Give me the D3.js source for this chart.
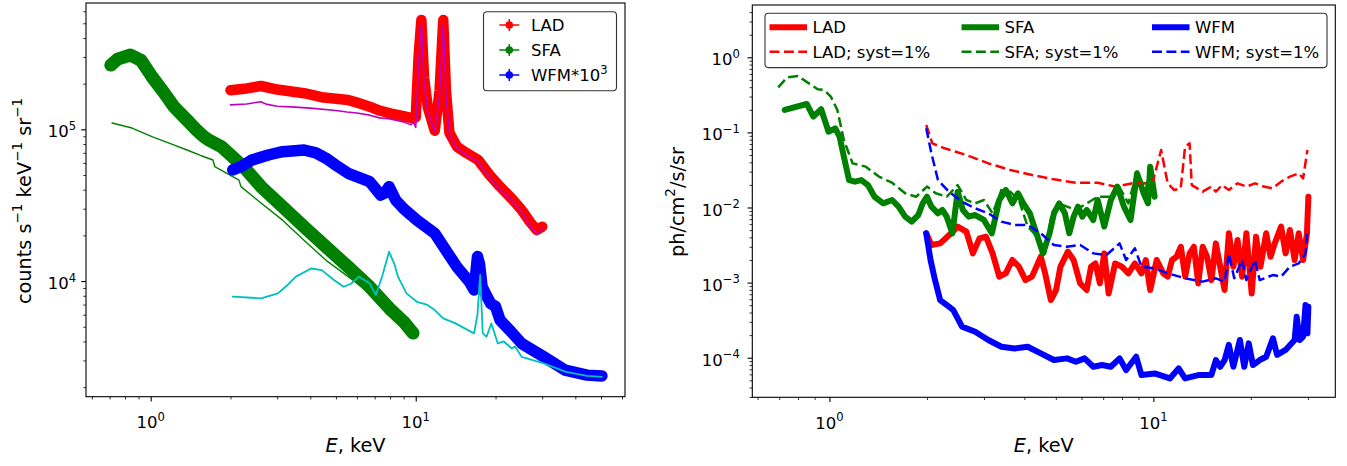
<!DOCTYPE html>
<html>
<head>
<meta charset="utf-8">
<script src="https://cdn.jsdelivr.net/npm/d3@7"></script>
<style>
  body { margin: 0; background: #fff; }
  text { font-family: "DejaVu Sans", sans-serif; }
</style>
</head>
<body>
<div id="chart-area"></div>
<script>
// ---- left panel: count spectra (E in keV, counts s^-1 keV^-1 sr^-1) ----
let ladE = [2.0,2.3,2.61,3.0,3.79,4.5,5.56,6.0,6.7,7.3,8.07,9.0,9.77,10.0,10.25,10.5,10.75,11.1,11.8,12.3,12.7,13.0,13.4,14.3,15.5,17.2,19.0,20.8,23.0,25.1,27.0,28.6,30.0];
let ladCounts = [1.81e5,1.86e5,1.93e5,1.83e5,1.73e5,1.62e5,1.56e5,1.50e5,1.41e5,1.33e5,1.27e5,1.22e5,1.18e5,1.2e5,3.0e5,5.25e5,2.2e5,1.4e5,9.8e4,1.8e5,5.25e5,1.8e5,9.5e4,7.7e4,7.0e4,6.28e4,5.0e4,4.19e4,3.5e4,2.94e4,2.45e4,2.17e4,2.28e4];

let ladModelE = [2.0,2.3,2.6,2.75,3.0,3.5,4.0,5.0,5.5,6.0,6.7,7.3,8.0,9.0,9.6,9.8,10.0,10.25,10.5,10.75,11.1,11.8,12.3,12.7,13.0,13.4,14.3,15.5,17.2,19.0,20.8,23.0,25.1,27.0,28.6,30.0];
let ladModel = [1.45e5,1.47e5,1.52e5,1.46e5,1.42e5,1.40e5,1.38e5,1.33e5,1.30e5,1.28e5,1.24e5,1.19e5,1.17e5,1.12e5,1.07e5,1.12e5,1.03e5,2.8e5,5.0e5,2.0e5,1.3e5,9.6e4,1.7e5,5.0e5,1.7e5,9.2e4,7.5e4,6.8e4,6.1e4,4.8e4,4.0e4,3.4e4,2.85e4,2.3e4,2.05e4,2.2e4];

let sfaE = [0.707,0.75,0.838,0.92,1.011,1.12,1.224,1.371,1.48,1.589,1.655,1.85,2.239,2.608,3.145,3.787,4.588,5.56,6.70,8.07,9.0,9.77];
let sfaCounts = [2.65e5,2.9e5,3.09e5,2.85e5,2.22e5,1.75e5,1.41e5,1.15e5,1.0e5,8.94e4,8.5e4,7.68e4,5.67e4,4.19e4,3.09e4,2.28e4,1.68e4,1.24e4,9.17e3,6.44e3,5.4e3,4.54e3];

let sfaModelE = [0.715,0.85,1.011,1.2,1.371,1.55,1.718,1.745,2.154,2.19,2.608,3.145,3.787,4.588,5.56,6.72,8.07,9.77];
let sfaModel = [1.10e5,1.02e5,8.94e4,8.0e4,7.31e4,6.7e4,6.28e4,5.67e4,4.63e4,4.19e4,3.27e4,2.52e4,1.86e4,1.37e4,1.07e4,8.33e3,6.25e3,4.54e3];

let wfmE = [2.04,2.2,2.41,2.8,3.145,3.79,4.2,4.59,5.0,5.56,6.70,7.1,7.37,7.65,7.93,8.4,9.0,10.1,11.8,14.3,16.0,16.6,17.1,17.4,17.8,18.5,19.2,20.0,20.8,23.0,25.1,30.4,36.6,44.3,50.4];
let wfmCounts = [5.4e4,5.7e4,6.28e4,6.8e4,7.12e4,7.31e4,7.0e4,6.44e4,5.8e4,5.13e4,4.52e4,4.0e4,3.69e4,3.8e4,4.19e4,3.42e4,3.0e4,2.52e4,2.06e4,1.24e4,9.8e3,8.73e3,1.45e4,1.3e4,9.17e3,8.0e3,7.1e3,6.8e3,5.54e3,4.6e3,3.88e3,3.17e3,2.59e3,2.4e3,2.37e3];

let wfmModelE = [2.04,2.61,3.02,3.3,3.53,4.03,4.42,4.9,5.34,5.7,6.09,6.69,7.08,7.5,7.93,8.3,8.57,9.23,10.1,11.0,11.8,12.7,14.0,15.3,16.6,17.1,17.5,17.9,18.5,19.3,20.4,21.5,23.0,23.7,25.1,30.4,36.6,44.3,50.4];
let wfmModel = [7.9e3,7.7e3,8.3e3,9.5e3,1.07e4,1.21e4,1.18e4,1.02e4,9.17e3,9.6e3,1.07e4,9.66e3,8.09e3,1.1e4,1.56e4,1.3e4,1.07e4,8.3e3,7.3e3,7.0e3,6.44e3,5.68e3,5.3e3,4.88e3,4.52e3,6.0e3,1.1e4,4.52e3,4.3e3,5.26e3,3.88e3,4.0e3,3.6e3,3.7e3,3.17e3,2.87e3,2.53e3,2.37e3,2.34e3];

// ---- right panel: sensitivity (ph/cm^2/s/sr) ----
let ladSensE = [1.99,2.065,2.197,2.375,2.488,2.647,2.773,2.906,3.044,3.190,3.345,3.503,3.670,3.845,4.029,4.221,4.493,4.634,4.826,5.009,5.167,5.446,5.673,5.943,6.226,6.423,6.626,6.838,7.054,7.277,7.621,7.99,8.372,8.77,9.19,9.48,9.78,10.24,10.73,11.07,11.42,11.79,12.16,12.54,12.94,13.34,13.76,14.20,14.65,15.11,15.59,16.08,16.59,17.11,17.66,18.2,18.79,19.37,20.12,20.75,21.41,22.3,23.0,23.7,24.8,25.6,26.4,27.3,28.1,29.0,29.8,30.1];
let ladSens = [0.00453,0.00317,0.00333,0.00453,0.00556,0.00477,0.00245,0.00388,0.00408,0.00245,0.0012,0.00133,0.002,0.00163,0.00108,0.0012,0.00221,0.00133,0.000586,0.000797,0.00163,0.00258,0.002,0.000975,0.000797,0.00163,0.0018,0.000975,0.00245,0.000718,0.0018,0.00163,0.00133,0.0018,0.00133,0.002,0.000797,0.002,0.00133,0.0012,0.002,0.00221,0.003,0.0012,0.00245,0.003,0.000975,0.003,0.00221,0.00108,0.00333,0.00163,0.000797,0.00453,0.00163,0.00369,0.0012,0.00453,0.000718,0.00408,0.00163,0.00453,0.00221,0.00333,0.00556,0.00245,0.00501,0.002,0.00453,0.002,0.00453,0.0139];

let sfaSensE = [0.728,0.851,0.892,0.943,0.994,1.042,1.075,1.108,1.150,1.198,1.255,1.315,1.378,1.466,1.561,1.635,1.713,1.795,1.881,1.941,2.001,2.065,2.163,2.232,2.302,2.397,2.488,2.582,2.690,2.818,2.999,3.172,3.345,3.504,3.672,3.823,3.968,4.157,4.356,4.563,4.782,4.933,5.120,5.333,5.501,5.675,5.853,6.039,6.229,6.526,6.732,7.055,7.391,7.744,8.114,8.502,8.908,9.333,9.627,9.778,10.09];
let sfaSens = [0.199,0.239,0.162,0.203,0.102,0.113,0.0877,0.0475,0.0232,0.0221,0.0232,0.0199,0.0139,0.01136,0.01258,0.01026,0.00755,0.00648,0.00794,0.01138,0.0139,0.01026,0.00836,0.00926,0.00755,0.00453,0.01625,0.00927,0.00755,0.00794,0.00682,0.00453,0.01258,0.0171,0.01138,0.01545,0.01138,0.00836,0.00453,0.00245,0.00453,0.00836,0.01136,0.00836,0.00453,0.00755,0.01026,0.00755,0.00927,0.00682,0.01258,0.00556,0.01258,0.01897,0.01026,0.00682,0.0285,0.01545,0.01136,0.035,0.0139];

let wfmSensE = [1.99,2.052,2.118,2.197,2.338,2.412,2.567,2.818,3.094,3.396,3.729,4.093,4.494,4.932,5.415,5.763,6.133,6.526,6.946,7.391,7.866,8.24,8.85,9.19,10.09,11.25,11.97,12.53,13.76,15.1,15.6,16.08,16.6,17.1,17.66,18.5,19.08,19.7,20.3,21.3,22.3,23.4,24.1,25.6,27.3,27.7,28.3,29.0,29.5,29.9,30.1];
let wfmSens = [0.00453,0.002,0.00108,0.000586,0.000478,0.000431,0.000259,0.000222,0.000172,0.00014,0.000133,0.00014,0.000114,0.0000931,0.000098,0.0000885,0.000098,0.0000758,0.0000798,0.0000758,0.000098,0.0000685,0.000103,0.0000587,0.0000618,0.000053,0.0000721,0.000053,0.0000587,0.0000587,0.0000931,0.0000758,0.0000931,0.000148,0.0000758,0.000172,0.0000758,0.000155,0.0000798,0.0000931,0.000103,0.000181,0.000109,0.000127,0.000172,0.000352,0.000172,0.000191,0.000503,0.000211,0.000478];

let ladSystE = [1.99,2.078,2.267,2.648,3.094,3.614,4.222,4.932,5.762,6.73,7.62,8.63,9.93,10.57,11.07,11.60,12.15,12.53,12.94,13.14,14.20,15.1,15.6,16.3,17.1,18.2,19.4,20.6,21.9,23.3,24.8,26.4,28.1,29.0,29.9];
let ladSyst = [0.1255,0.0716,0.0614,0.05,0.0387,0.0316,0.0271,0.0237,0.0214,0.0214,0.019,0.021,0.021,0.0583,0.021,0.0171,0.018,0.0646,0.0716,0.0199,0.01625,0.019,0.01625,0.0199,0.0171,0.021,0.019,0.021,0.019,0.018,0.0221,0.0258,0.0285,0.0244,0.0583];

let sfaSystE = [0.695,0.740,0.800,0.864,0.920,0.964,1.010,1.058,1.108,1.179,1.295,1.421,1.561,1.713,1.852,2.001,2.130,2.302,2.488,2.647,2.818,2.999,3.191,3.396,3.614,3.846,4.093,4.286,4.494,4.634,4.857,5.088,5.416,5.765,6.229,6.732,7.391,7.744,8.372,8.908,9.48,9.778,10.09];
let sfaSyst = [0.398,0.541,0.564,0.450,0.375,0.367,0.299,0.199,0.0793,0.0387,0.035,0.0258,0.0214,0.01545,0.0139,0.019,0.01545,0.0139,0.0199,0.01258,0.01136,0.01258,0.00836,0.0171,0.01625,0.01258,0.00556,0.00453,0.00301,0.00245,0.00836,0.01136,0.01026,0.00927,0.01136,0.0139,0.0139,0.021,0.01136,0.030,0.0171,0.0368,0.01545];

let wfmSystE = [1.99,2.065,2.163,2.338,2.567,2.818,3.094,3.396,3.729,4.093,4.494,4.932,5.415,5.943,6.526,7.166,7.866,8.24,8.77,9.19,10.09,11.07,12.53,14.2,15.6,16.6,17.1,17.77,18.79,19.37,20.6,21.3,23.4,24.8,26.4,28.1,29.5,29.9];
let wfmSyst = [0.1134,0.0526,0.0232,0.01625,0.01197,0.00975,0.00836,0.00648,0.00585,0.00585,0.00453,0.00317,0.003,0.00317,0.00245,0.00233,0.00333,0.002,0.00286,0.00163,0.00155,0.00133,0.00114,0.00103,0.00114,0.00103,0.00245,0.00114,0.002,0.00108,0.002,0.00108,0.00126,0.0012,0.00163,0.0018,0.00245,0.00501];

// SVG container
let svg = d3.select("#chart-area")
  .append("svg")
  .attr("width", 1347)
  .attr("height", 466);

const tickFS = 16.5, labFS = 19.3;

// "10" with superscript exponent etc.
function mathText(sel, parts, fs) {
  let raise = fs * 0.45;
  let prevSup = false;
  parts.forEach(p => {
    let t = sel.append("tspan").text(p[0]);
    if (p[1]) {
      t.attr("font-size", fs * 0.7);
      if (!prevSup) t.attr("dy", -raise);
    } else if (prevSup) {
      t.attr("dy", raise);
    }
    prevSup = p[1];
  });
}

function logTicks(dom) {
  let major = [], minor = [];
  for (let k = Math.floor(Math.log10(dom[0])); k <= Math.ceil(Math.log10(dom[1])); k++) {
    for (let m = 1; m < 10; m++) {
      let v = m * Math.pow(10, k);
      if (v < dom[0] || v > dom[1]) continue;
      (m === 1 ? major : minor).push(v);
    }
  }
  return { major, minor };
}

function expLabel(v) {
  let e = Math.round(Math.log10(v));
  return [["10", false], [(e < 0 ? "\u2212" : "") + Math.abs(e), true]];
}

function makePanel(id, box, xDom, yDom, yPad) {
  let x = d3.scaleLog().domain(xDom).range([box.x0, box.x1]);
  let y = d3.scaleLog().domain(yDom).range([box.y1, box.y0]);
  let g = svg.append("g");

  svg.append("clipPath").attr("id", id)
    .append("rect")
    .attr("x", box.x0).attr("y", box.y0)
    .attr("width", box.x1 - box.x0).attr("height", box.y1 - box.y0);

  let xt = logTicks(xDom), yt = logTicks(yDom);

  // axes: minor then major ticks
  [[xt.minor, 2.75, 0.8], [xt.major, 4.8, 1.1]].forEach(a => {
    g.append("g")
      .attr("transform", "translate(0," + box.y1 + ")")
      .call(d3.axisBottom(x).tickValues(a[0]).tickSize(a[1]).tickFormat(""))
      .call(s => s.select(".domain").remove())
      .selectAll("line").attr("stroke-width", a[2]);
  });
  [[yt.minor, 2.75, 0.8], [yt.major, 4.8, 1.1]].forEach(a => {
    g.append("g")
      .attr("transform", "translate(" + box.x0 + ",0)")
      .call(d3.axisLeft(y).tickValues(a[0]).tickSize(a[1]).tickFormat(""))
      .call(s => s.select(".domain").remove())
      .selectAll("line").attr("stroke-width", a[2]);
  });

  // tick labels
  xt.major.forEach(v => {
    let t = g.append("text")
      .attr("x", x(v)).attr("y", box.y1 + 31.5)
      .attr("text-anchor", "middle")
      .attr("font-size", tickFS);
    mathText(t, expLabel(v), tickFS);
  });
  yt.major.forEach(v => {
    let t = g.append("text")
      .attr("x", box.x0 - yPad).attr("y", y(v) + 8)
      .attr("text-anchor", "end")
      .attr("font-size", tickFS);
    mathText(t, expLabel(v), tickFS);
  });

  // x label
  let xl = g.append("text")
    .attr("x", (box.x0 + box.x1) / 2).attr("y", box.y1 + 55)
    .attr("text-anchor", "middle")
    .attr("font-size", labFS);
  xl.append("tspan").attr("font-style", "italic").text("E");
  xl.append("tspan").text(", keV");

  let plot = svg.append("g").attr("clip-path", "url(#" + id + ")");
  return { x, y, g, plot, box };
}

function drawLine(p, xs, ys, color, width, dash) {
  let line = d3.line()
    .x(d => p.x(d[0]))
    .y(d => p.y(d[1]));
  p.plot.append("path")
    .datum(xs.map((e, i) => [e, ys[i]]))
    .attr("d", line)
    .attr("fill", "none")
    .attr("stroke", color)
    .attr("stroke-width", width)
    .attr("stroke-linejoin", "round")
    .attr("stroke-linecap", dash ? "butt" : "round")
    .attr("stroke-dasharray", dash || null);
}

function frame(p) {
  svg.append("rect")
    .attr("x", p.box.x0).attr("y", p.box.y0)
    .attr("width", p.box.x1 - p.box.x0).attr("height", p.box.y1 - p.box.y0)
    .attr("fill", "none").attr("stroke", "#000").attr("stroke-width", 1.1);
}

// ---------------- left panel ----------------
let L = makePanel("clipL", { x0: 86, x1: 625, y0: 3, y1: 396.7 }, [0.570, 61.6], [1.73e3, 6.8e5], 10);

drawLine(L, ladE, ladCounts, "#ff0000", 10.5);
drawLine(L, ladModelE, ladModel, "#bf00bf", 1.6);
drawLine(L, sfaE, sfaCounts, "#008000", 13);
drawLine(L, sfaModelE, sfaModel, "#008000", 1.4);
drawLine(L, wfmE, wfmCounts, "#0000ff", 11.5);
drawLine(L, wfmModelE, wfmModel, "#00bfbf", 1.8);
frame(L);

let yl = L.g.append("text")
  .attr("transform", "translate(30.5,201) rotate(-90)")
  .attr("text-anchor", "middle")
  .attr("font-size", labFS);
mathText(yl, [["counts s", false], ["\u22121", true], [" keV", false], ["\u22121", true], [" sr", false], ["\u22121", true]], labFS);

// left legend
let legL = svg.append("g");
legL.append("rect")
  .attr("x", 483.5).attr("y", 11.7).attr("width", 133).attr("height", 79)
  .attr("rx", 3.5).attr("fill", "#fff").attr("stroke", "#333").attr("stroke-width", 1.1);
[["LAD", "#ff0000"], ["SFA", "#008000"], ["WFM*10", "#0000ff"]].forEach((d, i) => {
  let cy = 25 + i * 25, cx = 509.3;
  legL.append("line").attr("x1", cx - 10).attr("x2", cx + 10).attr("y1", cy).attr("y2", cy)
    .attr("stroke", d[1]).attr("stroke-width", 1.5);
  legL.append("line").attr("x1", cx).attr("x2", cx).attr("y1", cy - 6).attr("y2", cy + 6)
    .attr("stroke", d[1]).attr("stroke-width", 1.5);
  legL.append("circle").attr("cx", cx).attr("cy", cy).attr("r", 3.8).attr("fill", d[1]);
  let t = legL.append("text").attr("x", 531).attr("y", cy + 6).attr("font-size", tickFS);
  if (i === 2) mathText(t, [["WFM*10", false], ["3", true]], tickFS);
  else t.text(d[0]);
});

// ---------------- right panel ----------------
let R = makePanel("clipR", { x0: 752.3, x1: 1335.3, y0: 5, y1: 397.3 }, [0.578, 36.45], [2.97e-5, 4.97], 12.5);

const dash = "10,4.4";
const solidW = 6, dashW = 2.5;
drawLine(R, ladSensE, ladSens, "#ff0000", solidW);
drawLine(R, sfaSensE, sfaSens, "#008000", solidW);
drawLine(R, wfmSensE, wfmSens, "#0000ff", solidW);
drawLine(R, ladSystE, ladSyst, "#ff0000", dashW, dash);
drawLine(R, sfaSystE, sfaSyst, "#008000", dashW, dash);
drawLine(R, wfmSystE, wfmSyst, "#0000ff", dashW, dash);
frame(R);

let yr = R.g.append("text")
  .attr("transform", "translate(684,202) rotate(-90)")
  .attr("text-anchor", "middle")
  .attr("font-size", labFS);
mathText(yr, [["ph/cm", false], ["2", true], ["/s/sr", false]], labFS);

// right legend
let legR = svg.append("g");
legR.append("rect")
  .attr("x", 765).attr("y", 13.3).attr("width", 562).attr("height", 54.3)
  .attr("rx", 3.5).attr("fill", "#fff").attr("stroke", "#333").attr("stroke-width", 1.1);
let legCols = [769.5, 961.5, 1152];
let legNames = ["LAD", "SFA", "WFM"];
let legColors = ["#ff0000", "#008000", "#0000ff"];
legNames.forEach((n, i) => {
  [0, 1].forEach(r => {
    let cy = r === 0 ? 27.3 : 51.7;
    legR.append("line")
      .attr("x1", legCols[i]).attr("x2", legCols[i] + 37.5)
      .attr("y1", cy).attr("y2", cy)
      .attr("stroke", legColors[i])
      .attr("stroke-width", r === 0 ? solidW : dashW)
      .attr("stroke-dasharray", r === 0 ? null : dash);
    legR.append("text")
      .attr("x", legCols[i] + 43).attr("y", cy + 6)
      .attr("font-size", tickFS)
      .text(r === 0 ? n : n + "; syst=1%");
  });
});
</script>
</body>
</html>
